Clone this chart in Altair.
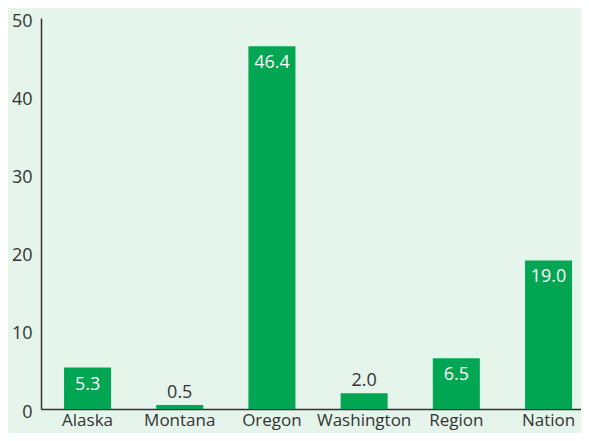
import altair as alt
import pandas as pd

categories = ["Alaska", "Montana", "Oregon", "Washington", "Region", "Nation"]
values = [5.3, 0.5, 46.4, 2.0, 6.5, 19.0]

df = pd.DataFrame({"state": categories, "value": values})
df["label"] = [f"{v:.1f}" for v in values]

FONT = "Open Sans"
BAR = "#00a651"
BG = "#e5f5eb"
INK = "#333333"

x = alt.X("state:N", sort=categories, title=None,
          scale=alt.Scale(paddingInner=0.49, paddingOuter=0.1735, align=0.72),
          axis=alt.Axis(labelAngle=0, ticks=False, tickSize=0, labelPadding=3,
                        labelFontSize=17, labelFont=FONT, labelColor=INK,
                        domainColor=INK, domainWidth=1.5))
y = alt.Y("value:Q", title=None,
          scale=alt.Scale(domain=[0, 50], nice=False),
          axis=alt.Axis(values=[0, 10, 20, 30, 40, 50], grid=False, ticks=False,
                        tickSize=0, labelPadding=9, labelOffset=3,
                        labelFontSize=18, labelFont=FONT, labelColor=INK,
                        domainColor=INK, domainWidth=1.5))

base = alt.Chart(df)
bars = base.mark_bar(color=BAR).encode(x=x, y=y)

inside = base.transform_filter(alt.datum.value >= 3).mark_text(
    color="white", fontSize=18, font=FONT, baseline="alphabetic", dy=22
).encode(x=alt.X("state:N", sort=categories), y="value:Q", text="label:N")

outside = base.transform_filter(alt.datum.value < 3).mark_text(
    color=INK, fontSize=18, font=FONT, baseline="alphabetic", dy=-7
).encode(x=alt.X("state:N", sort=categories), y="value:Q", text="label:N")

chart = alt.layer(bars, inside, outside).properties(
    width=540, height=391,
    background=BG,
    autosize=alt.AutoSizeParams(type="none"),
    padding={"left": 33, "top": 10, "right": 0, "bottom": 24},
).configure_view(stroke=None)

chart.save("out.html", embed_options={"renderer": "svg", "actions": False})
